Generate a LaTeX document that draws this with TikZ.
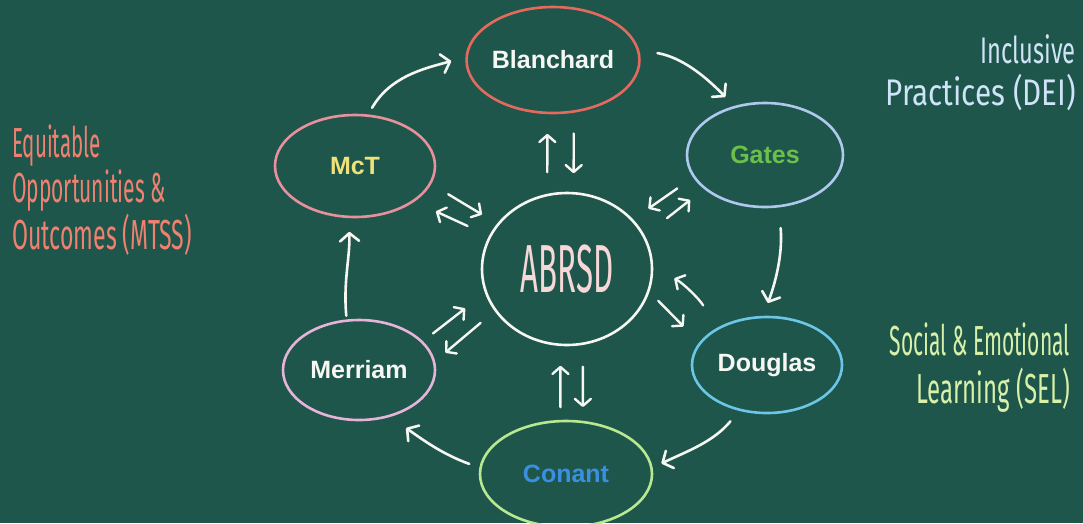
\documentclass[tikz,border=0pt]{standalone}
\usepackage{fontspec}
\setmainfont{Liberation Sans}
\newfontfamily\handfont{Fira Sans}
\usetikzlibrary{arrows.meta,shapes.geometric}
\definecolor{board}{RGB}{30,86,76}
\definecolor{chalk}{RGB}{246,246,242}
\definecolor{cBl}{RGB}{228,106,94}
\definecolor{cGa}{RGB}{176,200,238}
\definecolor{cMc}{RGB}{232,144,156}
\definecolor{cMe}{RGB}{230,180,216}
\definecolor{cDo}{RGB}{108,198,230}
\definecolor{cCo}{RGB}{184,232,144}
\definecolor{tGa}{RGB}{108,192,74}
\definecolor{tMc}{RGB}{240,226,122}
\definecolor{tCo}{RGB}{59,143,224}
\definecolor{tAB}{RGB}{246,216,216}
\definecolor{tLeft}{RGB}{240,128,112}
\definecolor{tDEI}{RGB}{208,228,248}
\definecolor{tSEL}{RGB}{216,240,168}
\newcommand{\hx}[2]{\scalebox{#1}[1]{#2}}
\begin{document}
\begin{tikzpicture}[x=1pt,y=1pt,
  bubble/.style={ellipse, draw, line width=2.6pt, inner sep=0pt, outer sep=0pt,
    font=\bfseries\fontsize{25}{29}\selectfont},
  cyc/.style={line width=2.6pt, line cap=round, draw=chalk,
    -{Straight Barb[length=8pt,width=19pt,round]}},
  inarr/.style={line width=2.4pt, line cap=round, draw=chalk,
    -{Straight Barb[length=7pt,width=16pt,round]}},
  hand/.style={inner sep=0pt}]
\fill[board] (0,0) rectangle (1083,-523);
\useasboundingbox (0,0) rectangle (1083,-523);

% nodes
\node[bubble, draw=cBl, text=chalk, minimum width=160pt, minimum height=106pt] (Blanchard) at (553,-60) {Blanchard};
\node[bubble, draw=cGa, text=tGa, minimum width=156pt, minimum height=104pt] (Gates) at (765,-155) {Gates};
\node[bubble, draw=cMc, text=tMc, minimum width=160pt, minimum height=102pt] (McT) at (355,-166) {McT};
\node[bubble, draw=cMe, text=chalk, minimum width=152pt, minimum height=100pt] (Merriam) at (359,-370) {Merriam};
\node[bubble, draw=cDo, text=chalk, minimum width=150pt, minimum height=96pt] (Douglas) at (767,-365) {Douglas};
\node[bubble, draw=cCo, text=tCo, minimum width=172pt, minimum height=106pt] (Conant) at (566,-474) {Conant};
\node[bubble, draw=chalk, text=tAB, minimum width=170pt, minimum height=152pt,
  font=\handfont\fontsize{68}{72}\selectfont] (ABRSD) at (567,-269) {\hx{0.46}{ABRSD}};

% side labels
\node[hand, text=tLeft, anchor=base west, font=\handfont\fontsize{42}{41}\selectfont] (mtss) at (12,-157)
  {\begin{tabular}[t]{@{}l@{}}\hx{0.49}{Equitable}\\\hx{0.50}{Opportunities \&}\\\hx{0.55}{Outcomes (MTSS)}\end{tabular}};
\node[hand, text=tDEI, anchor=base east, font=\handfont\fontsize{37}{39}\selectfont] (dei) at (1076,-63)
  {\begin{tabular}[t]{@{}r@{}}\hx{0.64}{Inclusive}\\\hx{0.80}{Practices (DEI)}\end{tabular}};
\node[hand, text=tSEL, anchor=base east, font=\handfont\fontsize{42}{45}\selectfont] (sel) at (1070,-355)
  {\begin{tabular}[t]{@{}r@{}}\hx{0.50}{Social \& Emotional}\\\hx{0.57}{Learning (SEL)}\end{tabular}};

% outer cycle
\draw[cyc, shorten <=9pt, shorten >=16pt] (McT.76) to[out=60,in=195] (Blanchard.178);
\draw[cyc, shorten <=20pt, shorten >=14pt] (Blanchard.7) to[out=-10,in=134] (Gates.122);
\draw[cyc, shorten <=22pt, shorten >=15pt] (Gates.-75) to[out=-85,in=70] (Douglas.95);
\draw[cyc, shorten <=15pt, shorten >=11pt] (Douglas.-121) to[out=-130,in=25] (Conant.4);
\draw[cyc, shorten <=12pt, shorten >=21pt] (Conant.176.5) to[out=160,in=-35] (Merriam.-57);
\draw[cyc, shorten <=5pt, shorten >=15pt] (Merriam.104.5) to[out=95,in=-88] (McT.-97);

% inner double arrows
\draw[inarr, shorten <=23pt, shorten >=21pt] (ABRSD.105.1) -- (Blanchard.-96.5);
\draw[inarr, shorten <=22pt, shorten >=20pt] (Blanchard.-68.7) -- (ABRSD.85.5);
\draw[inarr, shorten <=14pt, shorten >=21pt] (Conant.96.5) -- (ABRSD.-95.3);
\draw[inarr, shorten <=23pt, shorten >=15pt] (ABRSD.-78.7) -- (Conant.72.9);
\draw[inarr, shorten <=21pt, shorten >=19pt] (McT.-13.7) -- (ABRSD.147.1);
\draw[inarr, shorten <=25pt, shorten >=25pt] (ABRSD.157.9) -- (McT.-31.6);
\draw[inarr, shorten <=20.5pt, shorten >=20pt] (Gates.-163.2) -- (ABRSD.37.6);
\draw[inarr, shorten <=29.6pt, shorten >=19pt] (ABRSD.23.2) -- (Gates.-151);
\draw[inarr, shorten <=14pt, shorten >=26.5pt] (Merriam.24.2) -- (ABRSD.-164.4);
\draw[inarr, shorten <=19.6pt, shorten >=14.7pt] (ABRSD.-150.9) -- (Merriam.6.4);
\draw[inarr, shorten <=14pt, shorten >=23.7pt] (ABRSD.-15.9) -- (Douglas.162.5);
\draw[inarr, shorten <=27.6pt, shorten >=25.5pt] (Douglas.144.9) to[bend right=15] (ABRSD.2.7);
\end{tikzpicture}
\end{document}
